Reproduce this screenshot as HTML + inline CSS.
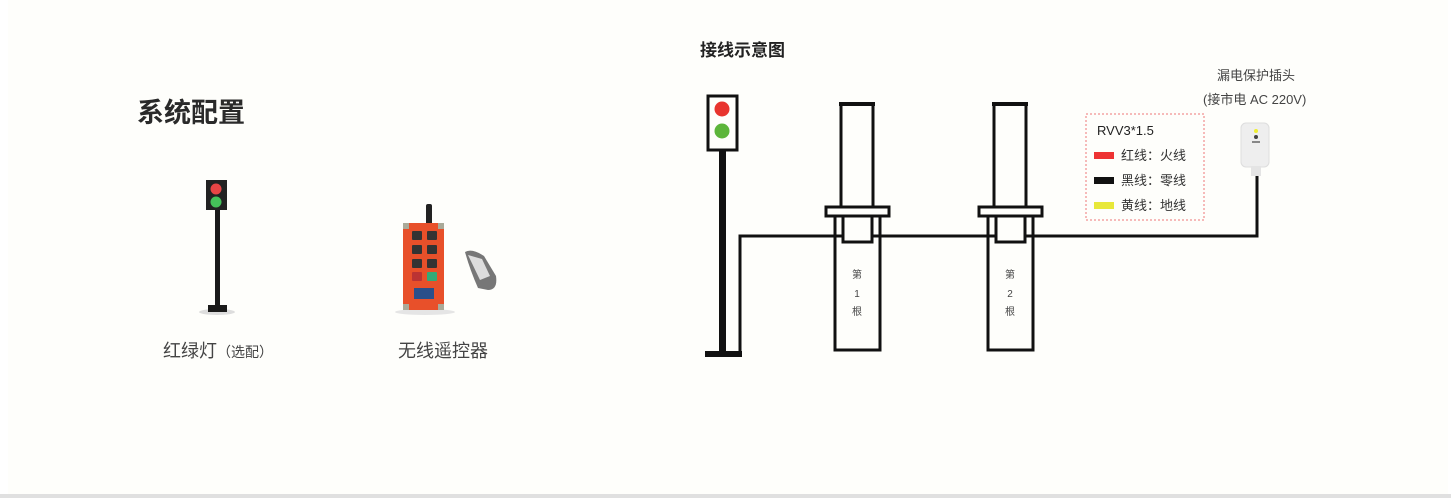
<!DOCTYPE html>
<html><head><meta charset="utf-8"><style>
html,body{margin:0;padding:0;}
body{width:1451px;height:498px;background:#fff;position:relative;overflow:hidden;font-family:"Liberation Sans","Noto Sans CJK SC",sans-serif;}
.bg{position:absolute;left:8px;top:0;width:1440px;height:494px;background:#fefefb;}
.bot{position:absolute;left:0;top:494px;width:1451px;height:4px;background:#e0e0e0;}
.t{position:absolute;color:#333;white-space:nowrap;}
</style></head><body>
<div class="bg"></div><div class="bot"></div>
<div class="t" style="left:137px;top:91px;font-size:27px;font-weight:bold;color:#2a2a2a;">系统配置</div>
<div class="t" style="left:163px;top:337px;font-size:18px;color:#444;">红绿灯<span style="font-size:14px">（选配）</span></div>
<div class="t" style="left:398px;top:337px;font-size:18px;color:#444;">无线遥控器</div>
<div class="t" style="left:700px;top:36px;font-size:17px;font-weight:bold;color:#222;">接线示意图</div>
<div class="t" style="left:1217px;top:65px;font-size:13px;color:#444;">漏电保护插头</div>
<div class="t" style="left:1203px;top:89px;font-size:13px;color:#444;">(接市电 AC 220V)</div>
<svg width="1451" height="498" style="position:absolute;left:0;top:0">
<ellipse cx="217" cy="312" rx="18" ry="3" fill="#ddd"/>
<rect x="206" y="180" width="21" height="30" fill="#222"/>
<circle cx="216" cy="189" r="5.5" fill="#e84545"/>
<circle cx="216" cy="202" r="5.5" fill="#45c25a"/>
<rect x="215" y="210" width="5" height="96" fill="#1a1a1a"/>
<rect x="208" y="305" width="19" height="7" fill="#1a1a1a"/>
<ellipse cx="425" cy="312" rx="30" ry="3" fill="#e5e5e5"/>
<rect x="426" y="204" width="6" height="22" rx="2" fill="#222"/>
<rect x="403" y="223" width="41" height="87" rx="3" fill="#e8502a"/>
<g fill="#333">
<rect x="412" y="231" width="10" height="9" rx="1"/><rect x="427" y="231" width="10" height="9" rx="1"/>
<rect x="412" y="245" width="10" height="9" rx="1"/><rect x="427" y="245" width="10" height="9" rx="1"/>
<rect x="412" y="259" width="10" height="9" rx="1"/><rect x="427" y="259" width="10" height="9" rx="1"/>
</g>
<rect x="412" y="272" width="10" height="9" rx="1" fill="#b33"/><rect x="427" y="272" width="10" height="9" rx="1" fill="#3a7"/>
<rect x="414" y="288" width="20" height="11" fill="#2a4f8a"/>
<rect x="403" y="223" width="6" height="6" fill="#aa9"/><rect x="438" y="223" width="6" height="6" fill="#aa9"/>
<rect x="403" y="304" width="6" height="6" fill="#aa9"/><rect x="438" y="304" width="6" height="6" fill="#aa9"/>
<path d="M465 252 Q472 248 484 256 L496 276 Q498 290 488 290 L478 288 Q470 270 465 252Z" fill="#777"/>
<path d="M468 255 L482 259 L490 276 L480 280Z" fill="#ddd"/>
<g fill="none" stroke="#111" stroke-width="3">
<rect x="708" y="96" width="29" height="54"/>
<polyline points="740,355 740,236 1257,236 1257,176"/>
<rect x="841" y="104" width="32" height="103"/>
<rect x="826" y="207" width="63" height="9"/>
<rect x="835" y="216" width="45" height="134"/>
<rect x="994" y="104" width="32" height="103"/>
<rect x="979" y="207" width="63" height="9"/>
<rect x="988" y="216" width="45" height="134"/>
<rect x="843" y="216" width="29" height="26" fill="#fefefb"/>
<rect x="996" y="216" width="29" height="26" fill="#fefefb"/>
</g>
<rect x="839" y="102" width="36" height="4" fill="#111"/>
<rect x="992" y="102" width="36" height="4" fill="#111"/>
<circle cx="722" cy="109" r="7.5" fill="#e8342e"/>
<circle cx="722" cy="131" r="7.5" fill="#5cb53a"/>
<rect x="719" y="150" width="7" height="205" fill="#111"/>
<rect x="705" y="351" width="37" height="6" fill="#111"/>
<g font-size="10" fill="#444" text-anchor="middle">
<text x="857" y="278">第</text><text x="857" y="297">1</text><text x="857" y="315">根</text>
<text x="1010" y="278">第</text><text x="1010" y="297">2</text><text x="1010" y="315">根</text>
</g>
<rect x="1086" y="114" width="118" height="106" fill="none" stroke="#e77" stroke-width="1" stroke-dasharray="2,2"/>
<text x="1097" y="135" font-size="13" fill="#222">RVV3*1.5</text>
<rect x="1094" y="152" width="20" height="7" fill="#ee3333"/>
<rect x="1094" y="177" width="20" height="7" fill="#111"/>
<rect x="1094" y="202" width="20" height="7" fill="#e8e83a"/>
<g font-size="13" fill="#333">
<text x="1121" y="160">红线：火线</text>
<text x="1121" y="185">黑线：零线</text>
<text x="1121" y="210">黄线：地线</text>
</g>
<rect x="1241" y="123" width="28" height="44" rx="5" fill="#eee" stroke="#ddd"/>
<rect x="1251" y="166" width="10" height="10" fill="#e4e4e4"/>
<circle cx="1256" cy="131" r="2" fill="#ee3"/>
<circle cx="1256" cy="137" r="2" fill="#444"/>
<rect x="1252" y="141" width="8" height="2" fill="#888"/>
</svg>
</body></html>
